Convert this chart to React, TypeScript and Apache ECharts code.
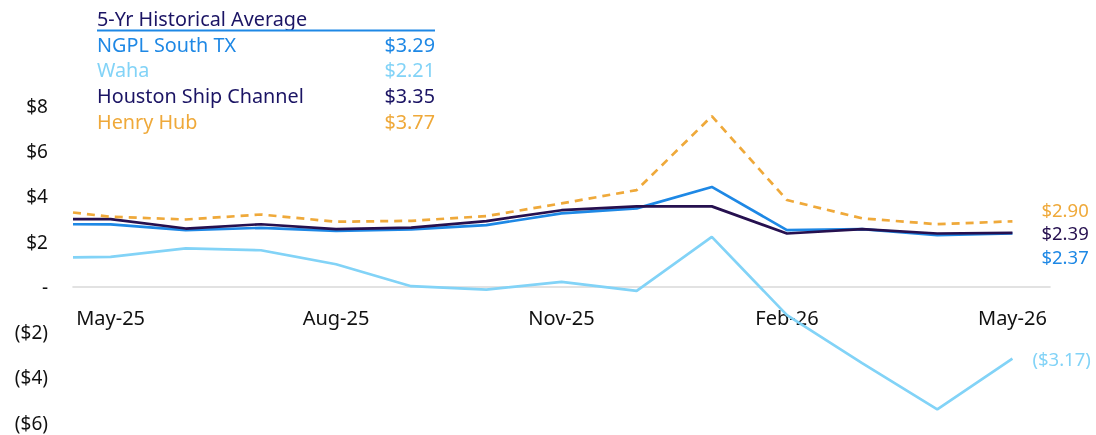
import React, { useEffect, useRef } from "react";
import * as echarts from "echarts";

// Month positions (index from May-25); first point sits at the left edge of the axis
const xPositions = [-0.5, 0, 1, 2, 3, 4, 5, 6, 7, 8, 9, 10, 11, 12];
const monthLabels = ["May-25", "Jun-25", "Jul-25", "Aug-25", "Sep-25", "Oct-25", "Nov-25", "Dec-25", "Jan-26", "Feb-26", "Mar-26", "Apr-26", "May-26"];
const shownMonthEvery = 3;

const henryHub = [3.29, 3.10, 2.98, 3.20, 2.88, 2.92, 3.13, 3.69, 4.28, 7.55, 3.84, 3.03, 2.77, 2.90];
const houstonShip = [3.00, 3.00, 2.58, 2.77, 2.55, 2.62, 2.91, 3.39, 3.56, 3.56, 2.36, 2.55, 2.36, 2.39];
const ngplSouthTX = [2.77, 2.76, 2.51, 2.61, 2.48, 2.54, 2.73, 3.25, 3.47, 4.42, 2.51, 2.55, 2.29, 2.37];
const waha = [1.30, 1.33, 1.70, 1.62, 1.00, 0.03, -0.12, 0.22, -0.18, 2.21, -1.25, -3.37, -5.42, -3.17];

const tableTitle = "5-Yr Historical Average";
const tableNames = ["NGPL South TX", "Waha", "Houston Ship Channel", "Henry Hub"];
const tableValues = ["$3.29", "$2.21", "$3.35", "$3.77"];

const yTicks = { min: -6, max: 8, interval: 2 };

const C_NGPL = "#1E88E5";
const C_WAHA = "#82D3F7";
const C_HSC = "#26104F";
const C_HSC_TEXT = "#1B1464";
const C_HH = "#EFA93A";
const tableColors = [C_NGPL, C_WAHA, C_HSC_TEXT, C_HH];

const FONT = "'Segoe UI', 'Noto Sans', 'Open Sans', sans-serif";

function fmtMoney(v: number) {
  if (Math.abs(v) < 1e-9) return "-";
  const s = "$" + Math.abs(v).toFixed(0);
  return v < 0 ? "(" + s + ")" : s;
}
function fmtEnd(v: number) {
  const s = "$" + Math.abs(v).toFixed(2);
  return v < 0 ? "(" + s + ")" : s;
}

export default function App() {
  const ref = useRef<HTMLDivElement>(null);
  useEffect(() => {
    if (!ref.current) return;
    const chart = echarts.init(ref.current, null, { renderer: "svg" });
    const mk = (name: string, vals: number[], color: string, dashed: boolean, endColor: string, endOffset: [number, number], z: number) => ({
      name,
      type: "line",
      data: vals.map((v, i) => [xPositions[i], v]),
      showSymbol: false,
      symbol: "none",
      z,
      lineStyle: { color, width: 2.7, type: dashed ? [8, 6] : "solid" },
      endLabel: {
        show: true,
        formatter: (p: any) => fmtEnd(p.value[1]),
        color: endColor,
        fontSize: 18.5,
        lineHeight: 19,
        fontFamily: FONT,
        offset: endOffset,
        distance: 0,
      },
    });

    const gridTop = 106;
    const gridBottom = 12.5;
    const gridH = 435 - gridTop - gridBottom;
    const zeroOffset = -((0 - yTicks.min) / (yTicks.max - yTicks.min)) * gridH;

    const tableX = 97;
    const tableR = 435;
    const rowY0 = 44;
    const rowH = 25.7;
    const FS_T = 19.8;
    const graphics: any[] = [
      {
        type: "text",
        x: tableX,
        y: 18,
        style: { text: tableTitle, fill: C_HSC_TEXT, fontSize: FS_T, fontFamily: FONT, verticalAlign: "middle" },
      },
      {
        type: "line",
        shape: { x1: tableX, y1: 30.5, x2: tableR, y2: 30.5 },
        style: { stroke: C_NGPL, lineWidth: 2 },
      },
    ];
    tableNames.forEach((n, i) => {
      graphics.push({
        type: "text",
        x: tableX,
        y: rowY0 + i * rowH,
        style: { text: n, fill: tableColors[i], fontSize: FS_T, fontFamily: FONT, verticalAlign: "middle" },
      });
      graphics.push({
        type: "text",
        x: tableR,
        y: rowY0 + i * rowH,
        style: { text: tableValues[i], fill: tableColors[i], fontSize: FS_T, fontFamily: FONT, align: "right", verticalAlign: "middle" },
      });
    });

    chart.setOption({
      animation: false,
      grid: { left: 73, right: 46, top: gridTop, bottom: gridBottom, containLabel: false, outerBoundsMode: "none" },
      xAxis: {
        type: "value",
        min: -0.5,
        max: 12.5,
        interval: 0.5,
        position: "bottom",
        offset: zeroOffset,
        axisLine: { show: true, onZero: false, lineStyle: { color: "#D9D9D9", width: 1.6 } },
        axisTick: { show: false },
        splitLine: { show: false },
        axisLabel: {
          margin: 21,
          color: "#111",
          fontSize: 20,
          fontFamily: FONT,
          showMinLabel: true,
          showMaxLabel: true,
          formatter: (v: number) => {
            const r = Math.round(v);
            if (Math.abs(v - r) > 1e-6 || r < 0 || r % shownMonthEvery !== 0) return "";
            return monthLabels[r] ?? "";
          },
        },
      },
      yAxis: {
        type: "value",
        min: yTicks.min,
        max: yTicks.max,
        interval: yTicks.interval,
        axisLine: { show: false },
        axisTick: { show: false },
        splitLine: { show: false },
        axisLabel: { margin: 25, color: "#111", fontSize: 19, fontFamily: FONT, formatter: (v: number) => fmtMoney(v) },
      },
      graphic: graphics,
      series: [
        mk("Waha", waha, C_WAHA, false, C_WAHA, [20, 0], 2),
        mk("NGPL South TX", ngplSouthTX, C_NGPL, false, C_NGPL, [29, 23], 3),
        mk("Houston Ship Channel", houstonShip, C_HSC, false, C_HSC, [29, 0], 4),
        mk("Henry Hub", henryHub, C_HH, true, C_HH, [29, -11.5], 5),
      ],
    });
    return () => chart.dispose();
  }, []);
  return <div ref={ref} style={{ position: "fixed", left: 0, top: 0, width: 1096, height: 435 }} />;
}
